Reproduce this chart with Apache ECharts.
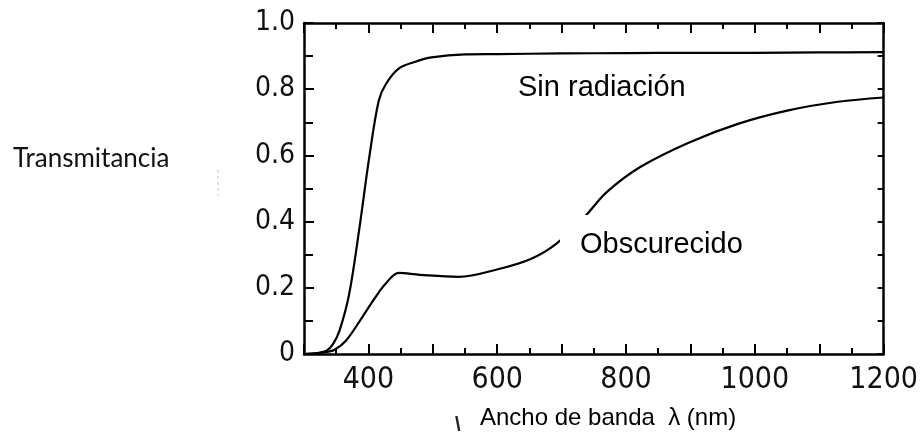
<!DOCTYPE html>
<html>
<head>
<meta charset="utf-8">
<script src="https://cdn.jsdelivr.net/npm/echarts@6/dist/echarts.min.js"></script>
<style>
  html, body { margin: 0; padding: 0; background: #fff; }
  #chart { width: 921px; height: 438px; }
</style>
</head>
<body>
<div id="chart"></div>
<script>
// Transmittance curves: wavelength (nm) and transmittance (0..1)
const sinRadNm  = [300, 320, 335, 345, 355, 370, 386, 401, 416, 427, 447, 473, 498, 550, 600, 700, 800, 900, 1000, 1100, 1200];
const sinRadVal = [0.0, 0.003, 0.01, 0.03, 0.07, 0.18, 0.38, 0.59, 0.765, 0.815, 0.862, 0.883, 0.896, 0.905, 0.906, 0.908, 0.909, 0.91, 0.91, 0.911, 0.912];

const obscNm  = [300, 320, 335, 347, 365, 390, 411, 427, 447, 480, 540, 601, 652, 691, 735, 770, 822, 899, 975, 1052, 1129, 1200];
const obscVal = [0.0, 0.002, 0.006, 0.012, 0.04, 0.11, 0.172, 0.213, 0.245, 0.239, 0.233, 0.256, 0.287, 0.332, 0.413, 0.489, 0.565, 0.64, 0.696, 0.736, 0.762, 0.775];

// Axis ranges and labelled ticks
const xMin = 300, xMax = 1200, xStep = 100;
const xLabelTicks = [400, 600, 800, 1000, 1200];
const yMin = 0, yMax = 1.0, yStep = 0.2;
const yLabelTicks = ['0', '0.2', '0.4', '0.6', '0.8', '1.0'];

const numFont = "'Liberation Sans Narrow', 'DejaVu Sans Condensed', 'Liberation Sans', sans-serif";
const textFont = "'Liberation Sans', Arial, sans-serif";
const frame = { show: true, onZero: false, lineStyle: { color: '#000', width: 2.5 } };

const chart = echarts.init(document.getElementById('chart'), null, { renderer: 'canvas' });

chart.setOption({
  animation: false,
  backgroundColor: '#fff',
  grid: { left: 304, top: 23, width: 586, height: 331, containLabel: false },
  xAxis: [
    {
      type: 'value', position: 'bottom', min: xMin, max: xMax, interval: xStep,
      axisLine: frame,
      axisTick: { show: true, inside: true, length: 10, lineStyle: { color: '#000', width: 2 } },
      minorTick: { show: true, splitNumber: 2, length: 6, lineStyle: { color: '#000', width: 2 } },
      splitLine: { show: false },
      axisLabel: {
        margin: 11, color: '#111', fontSize: 30, fontFamily: numFont,
        formatter: v => xLabelTicks.indexOf(v) >= 0 ? String(v) : ''
      }
    },
    {
      type: 'value', position: 'top', min: xMin, max: xMax, interval: xStep,
      axisLine: frame,
      axisTick: { show: true, inside: true, length: 10, lineStyle: { color: '#000', width: 2 } },
      minorTick: { show: true, splitNumber: 2, length: 6, lineStyle: { color: '#000', width: 2 } },
      splitLine: { show: false },
      axisLabel: { show: false }
    }
  ],
  yAxis: [
    {
      type: 'value', position: 'left', min: yMin, max: yMax, interval: yStep,
      axisLine: frame,
      axisTick: { show: true, inside: true, length: 10, lineStyle: { color: '#000', width: 2 } },
      minorTick: { show: true, splitNumber: 2, length: 9, lineStyle: { color: '#000', width: 2 } },
      splitLine: { show: false },
      axisLabel: {
        margin: 9, color: '#111', fontSize: 28, fontFamily: numFont,
        formatter: v => yLabelTicks[Math.round(v / yStep)]
      }
    },
    {
      type: 'value', position: 'right', min: yMin, max: yMax, interval: 0.1,
      axisLine: frame,
      axisTick: { show: true, inside: true, length: 6, lineStyle: { color: '#000', width: 2 } },
      splitLine: { show: false },
      axisLabel: { show: false }
    }
  ],
  series: [
    {
      name: 'Sin radiación', type: 'line', xAxisIndex: 0, yAxisIndex: 0,
      data: sinRadNm.map((x, i) => [x, sinRadVal[i]]),
      showSymbol: false, smooth: 0.35,
      lineStyle: { color: '#000', width: 2.2 }, z: 2
    },
    {
      name: 'Obscurecido', type: 'line', xAxisIndex: 0, yAxisIndex: 0,
      data: obscNm.map((x, i) => [x, obscVal[i]]),
      showSymbol: false, smooth: 0.35,
      lineStyle: { color: '#000', width: 2.2 }, z: 2
    }
  ],
  graphic: [
    // curve captions
    { type: 'text', left: 518, top: 73, z: 20,
      style: { text: 'Sin radiación', fontSize: 29, fontFamily: textFont, fill: '#000' } },
    { type: 'rect', shape: { x: 560, y: 215, width: 190, height: 48 }, z: 19,
      style: { fill: '#fff' } },
    { type: 'text', left: 580, top: 230, z: 20,
      style: { text: 'Obscurecido', fontSize: 29, fontFamily: textFont, fill: '#000' } },
    // axis titles
    { type: 'text', left: 13, top: 146, z: 20,
      style: { text: 'Transmitancia', fontSize: 26, fontFamily: "Lato, 'Open Sans', sans-serif", fill: '#111' } },
    { type: 'text', left: 480, top: 406, z: 20,
      style: { text: 'Ancho de banda  λ (nm)', fontSize: 24, fontFamily: textFont, fill: '#000' } },
    { type: 'text', left: 455, top: 415, z: 20,
      style: { text: '\\', fontSize: 20, fontFamily: textFont, fontWeight: 'bold', fill: '#222' } },
    { type: 'line', shape: { x1: 218, y1: 170, x2: 218, y2: 196 }, z: 20,
      style: { stroke: '#c8c8c8', lineWidth: 1, lineDash: [3, 3] } }
  ]
});
</script>
</body>
</html>
